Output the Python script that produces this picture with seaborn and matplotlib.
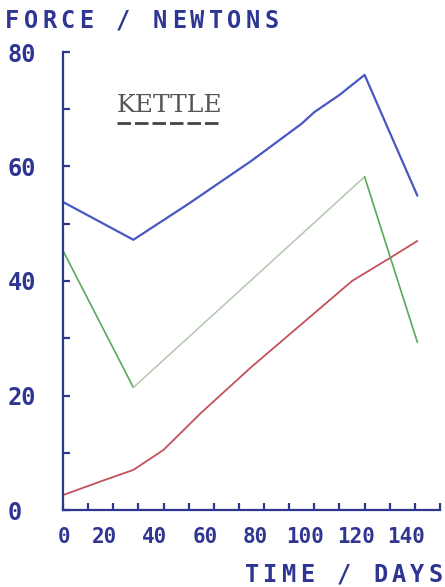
import matplotlib
matplotlib.use("Agg")
import matplotlib.pyplot as plt
import matplotlib.transforms as mtransforms
from matplotlib.lines import Line2D
import seaborn as sns
import pandas as pd

# ---- data ----
blue_days = [0, 14, 28, 50, 75, 95, 100, 110, 120, 141]
blue_vals = [53.8, 50.5, 47.2, 53.5, 61.0, 67.5, 69.5, 72.5, 76.0, 54.9]
green_days = [0, 28, 120, 141]
green_vals = [45.3, 21.4, 58.2, 29.3]
red_days = [0, 15, 28, 40, 55, 75, 95, 115, 130, 141]
red_vals = [2.6, 5.0, 7.0, 10.5, 17.0, 25.0, 32.5, 40.0, 44.0, 47.0]
x_ticks = [0, 20, 40, 60, 80, 100, 120, 140]
x_labels = ["0", "20", "40", "60", "80", "100", "120", "140"]
y_ticks = [0, 20, 40, 60, 80]
y_labels = ["0", "20", "40", "60", "80"]
title_text = "FORCE / NEWTONS"
xlabel_text = "TIME / DAYS"
legend_text = "KETTLE"

W, H = 445, 587
AX_C = "#2c3590"
TXT_C = "#2e3592"
BLUE = "#4857c4"
GREEN = "#5aa95a"
GREEN_FADED = "#b3c7b0"
RED = "#c4505c"

sns.set_theme(style="white")
plt.rcParams["font.family"] = ["DejaVu Sans Mono", "DejaVu Sans"]

fig = plt.figure(figsize=(W / 100, H / 100), dpi=100)
fig.patch.set_facecolor("white")
ax = fig.add_axes([63 / W, 77 / H, 377 / W, 458 / H])
ax.set_facecolor("white")

blue_df = pd.DataFrame({"day": blue_days, "force": blue_vals})
red_df = pd.DataFrame({"day": red_days, "force": red_vals})
green_df = pd.DataFrame({"day": green_days, "force": green_vals})

sns.lineplot(data=blue_df, x="day", y="force", ax=ax, color=BLUE, lw=1.6,
             sort=False, estimator=None)
sns.lineplot(data=red_df, x="day", y="force", ax=ax, color=RED, lw=1.3,
             sort=False, estimator=None)
sns.lineplot(data=green_df.iloc[0:2], x="day", y="force", ax=ax, color=GREEN,
             lw=1.2, sort=False, estimator=None)
sns.lineplot(data=green_df.iloc[1:3], x="day", y="force", ax=ax, color=GREEN_FADED,
             lw=1.1, sort=False, estimator=None)
sns.lineplot(data=green_df.iloc[2:4], x="day", y="force", ax=ax, color=GREEN,
             lw=1.2, sort=False, estimator=None)

ax.set_xlim(0, 150)
ax.set_ylim(0, 80)
ax.set_xlabel("")
ax.set_ylabel("")

for s in ["top", "right"]:
    ax.spines[s].set_visible(False)
for s in ["left", "bottom"]:
    ax.spines[s].set_color(AX_C)
    ax.spines[s].set_linewidth(1.6)

ax.set_xticks(x_ticks)
ax.set_xticklabels(x_labels)
ax.set_xticks([10, 30, 50, 70, 90, 110, 130, 150], minor=True)
ax.set_yticks(y_ticks)
ax.set_yticklabels(y_labels)
ax.set_yticks([10, 30, 50, 70], minor=True)

ax.tick_params(axis="both", which="both", direction="in", length=5, width=1.6,
               color=AX_C, bottom=True, left=True, top=False, right=False)
ax.tick_params(axis="x", which="major", pad=12, labelsize=15, labelcolor=TXT_C)
ax.tick_params(axis="y", which="major", pad=40, labelsize=17, labelcolor=TXT_C)

for lbl in ax.get_xticklabels():
    lbl.set_fontweight("bold")
    off = 1 if lbl.get_text() == "0" else -9
    lbl.set_transform(lbl.get_transform() +
                      mtransforms.ScaledTranslation(off / 100, 0, fig.dpi_scale_trans))
for lbl in ax.get_yticklabels():
    lbl.set_fontweight("bold")
    lbl.set_horizontalalignment("left")


def spaced(s, x0, baseline, adv, size):
    for i, ch in enumerate(s):
        fig.text((x0 + i * adv + adv / 2) / W, 1 - baseline / H, ch,
                 ha="center", va="baseline", fontsize=size, fontweight="bold",
                 color=TXT_C)


spaced(title_text, 3, 28, 18.5, 17)
spaced(xlabel_text, 243, 582, 18.3, 17)

kettle = fig.text(117 / W, 1 - 112 / H, legend_text, ha="left", va="baseline",
                  fontsize=18, color="#555555")
kettle.set_fontfamily("DejaVu Serif")
kettle.set_fontweight("light")
fig.add_artist(Line2D([117 / W, 220 / W], [1 - 123 / H, 1 - 123 / H],
                      transform=fig.transFigure, color="#444444", lw=2.0,
                      dashes=(13.5 * 0.72 / 2.0, 4 * 0.72 / 2.0)))

fig.savefig("out.png", dpi=100, facecolor="white")
